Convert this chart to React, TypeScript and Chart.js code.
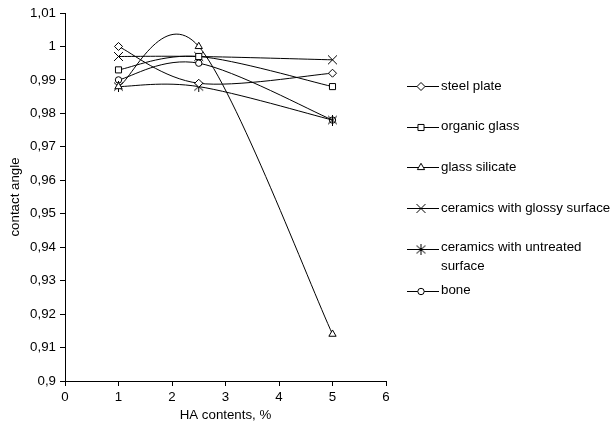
import React, { useEffect, useRef } from 'react';
import { Chart, registerables } from 'chart.js';
import { drawPoint } from 'chart.js/helpers';

Chart.register(...registerables);

// ---- data ----
const xValues = [1, 2.5, 5];
const seriesNames = [
  'steel plate',
  'organic glass',
  'glass silicate',
  'ceramics with glossy surface',
  'ceramics with untreated surface',
  'bone',
];
const steelPlate = [1.0, 0.989, 0.992];
const organicGlass = [0.993, 0.997, 0.988];
const glassSilicate = [0.988, 1.0, 0.914];
const ceramicsGlossy = [0.997, 0.997, 0.996];
const ceramicsUntreated = [0.988, 0.988, 0.978];
const bone = [0.99, 0.995, 0.978];
const legendLines = [
  ['steel plate'],
  ['organic glass'],
  ['glass silicate'],
  ['ceramics with glossy surface'],
  ['ceramics with untreated', 'surface'],
  ['bone'],
];
const xTitle = 'HA contents, %';
const yTitle = 'contact angle';

const FONT_FAMILY = '"Liberation Sans", Arial, sans-serif';
const FONT_SIZE = 13.3;

function makeAsterisk(): HTMLCanvasElement {
  const c = document.createElement('canvas');
  c.width = 11;
  c.height = 11;
  const g = c.getContext('2d')!;
  g.strokeStyle = '#000';
  g.lineWidth = 1;
  g.beginPath();
  g.moveTo(1, 1.5);
  g.lineTo(10, 9.5);
  g.moveTo(10, 1.5);
  g.lineTo(1, 9.5);
  g.moveTo(5.5, 0);
  g.lineTo(5.5, 11);
  g.stroke();
  return c;
}

const fmt = (v: number) => String(Math.round(v * 100) / 100).replace('.', ',');

// Excel-like smoothing: Bezier control points = P +/- (next - prev) / 6
const excelSmooth = {
  id: 'excelSmooth',
  beforeDatasetsDraw(chart: any) {
    chart.data.datasets.forEach((_: any, i: number) => {
      const meta = chart.getDatasetMeta(i);
      const pts = meta.data as any[];
      const n = pts.length;
      const f = 1 / 6;
      for (let k = 0; k < n; k++) {
        const p = pts[k];
        const prev = pts[Math.max(k - 1, 0)];
        const next = pts[Math.min(k + 1, n - 1)];
        const dx = next.x - prev.x;
        const dy = next.y - prev.y;
        p.cp1x = p.x - f * dx;
        p.cp1y = p.y - f * dy;
        p.cp2x = p.x + f * dx;
        p.cp2y = p.y + f * dy;
      }
      if (meta.dataset) meta.dataset._pointsUpdated = true;
    });
  },
};

export default function App() {
  const ref = useRef<HTMLCanvasElement | null>(null);

  useEffect(() => {
    if (!ref.current) return;
    const asterisk = makeAsterisk();
    const values = [steelPlate, organicGlass, glassSilicate, ceramicsGlossy, ceramicsUntreated, bone];
    const styles: any[] = [
      { pointStyle: 'rectRot', radius: 4 },
      { pointStyle: 'rect', radius: 4.3 },
      { pointStyle: 'triangle', radius: 4.2 },
      { pointStyle: 'crossRot', radius: 6.3 },
      { pointStyle: asterisk, radius: 5 },
      { pointStyle: 'circle', radius: 3.2 },
    ];

    const datasets = seriesNames.map((name, i) => ({
      label: name,
      data: xValues.map((x, j) => ({ x, y: values[i][j] })),
      borderColor: '#000',
      borderWidth: 1,
      backgroundColor: '#fff',
      pointStyle: styles[i].pointStyle,
      pointRadius: styles[i].radius,
      pointBorderColor: '#000',
      pointBackgroundColor: '#fff',
      pointBorderWidth: 1,
      tension: 0.4,
      fill: false,
    }));

    const legendPlugin = {
      id: 'customLegend',
      afterDraw(chart: any) {
        const ctx = chart.ctx as CanvasRenderingContext2D;
        ctx.save();
        ctx.font = `${FONT_SIZE}px ${FONT_FAMILY}`;
        ctx.textBaseline = 'middle';
        ctx.textAlign = 'left';
        let y = 86;
        legendLines.forEach((lines, i) => {
          const yy = Math.round(y) + 0.5;
          ctx.strokeStyle = '#000';
          ctx.lineWidth = 1;
          ctx.beginPath();
          ctx.moveTo(407, yy);
          ctx.lineTo(439, yy);
          ctx.stroke();
          ctx.fillStyle = '#fff';
          drawPoint(ctx, { pointStyle: styles[i].pointStyle, radius: styles[i].radius, borderWidth: 1, rotation: 0 } as any, 421, yy);
          ctx.fillStyle = '#000';
          lines.forEach((t, k) => {
            ctx.fillText(t, 441, y - (lines.length > 1 ? 1.5 : 0) + k * 18.7);
          });
          y += (lines.length - 1) * 18.7 + (lines.length > 1 ? 23.3 : 40.7);
        });
        ctx.restore();
      },
    };

    const chart = new Chart(ref.current, {
      type: 'line',
      data: { datasets },
      options: {
        animation: false,
        responsive: true,
        maintainAspectRatio: false,
        layout: { padding: { top: 13, right: 226, left: 0, bottom: 0 } },
        plugins: { legend: { display: false }, tooltip: { enabled: false } },
        scales: {
          x: {
            type: 'linear',
            min: 0,
            max: 6,
            ticks: { stepSize: 1, color: '#000', padding: 3, font: { size: FONT_SIZE, family: FONT_FAMILY } },
            grid: { drawOnChartArea: false, color: '#000', tickLength: 5 },
            border: { color: '#000', width: 1 },
            title: { display: true, text: xTitle, color: '#000', padding: { top: 0, bottom: 12 }, font: { size: FONT_SIZE, family: FONT_FAMILY } },
            afterFit: (s: any) => { s.height = 54; },
          },
          y: {
            type: 'linear',
            min: 0.9,
            max: 1.01,
            ticks: { stepSize: 0.01, color: '#000', padding: 4, callback: (v: any) => fmt(Number(v)), font: { size: FONT_SIZE, family: FONT_FAMILY } },
            grid: { drawOnChartArea: false, color: '#000', tickLength: 5 },
            border: { color: '#000', width: 1 },
            title: { display: true, text: yTitle, color: '#000', padding: { top: 7, bottom: 0 }, font: { size: FONT_SIZE, family: FONT_FAMILY } },
            afterFit: (s: any) => { s.width = 65; },
          },
        },
      } as any,
      plugins: [excelSmooth, legendPlugin],
    });
    return () => chart.destroy();
  }, []);

  return (
    <div style={{ position: 'fixed', left: 0, top: 0, width: 612, height: 435, background: '#fff' }}>
      <canvas ref={ref} />
    </div>
  );
}
